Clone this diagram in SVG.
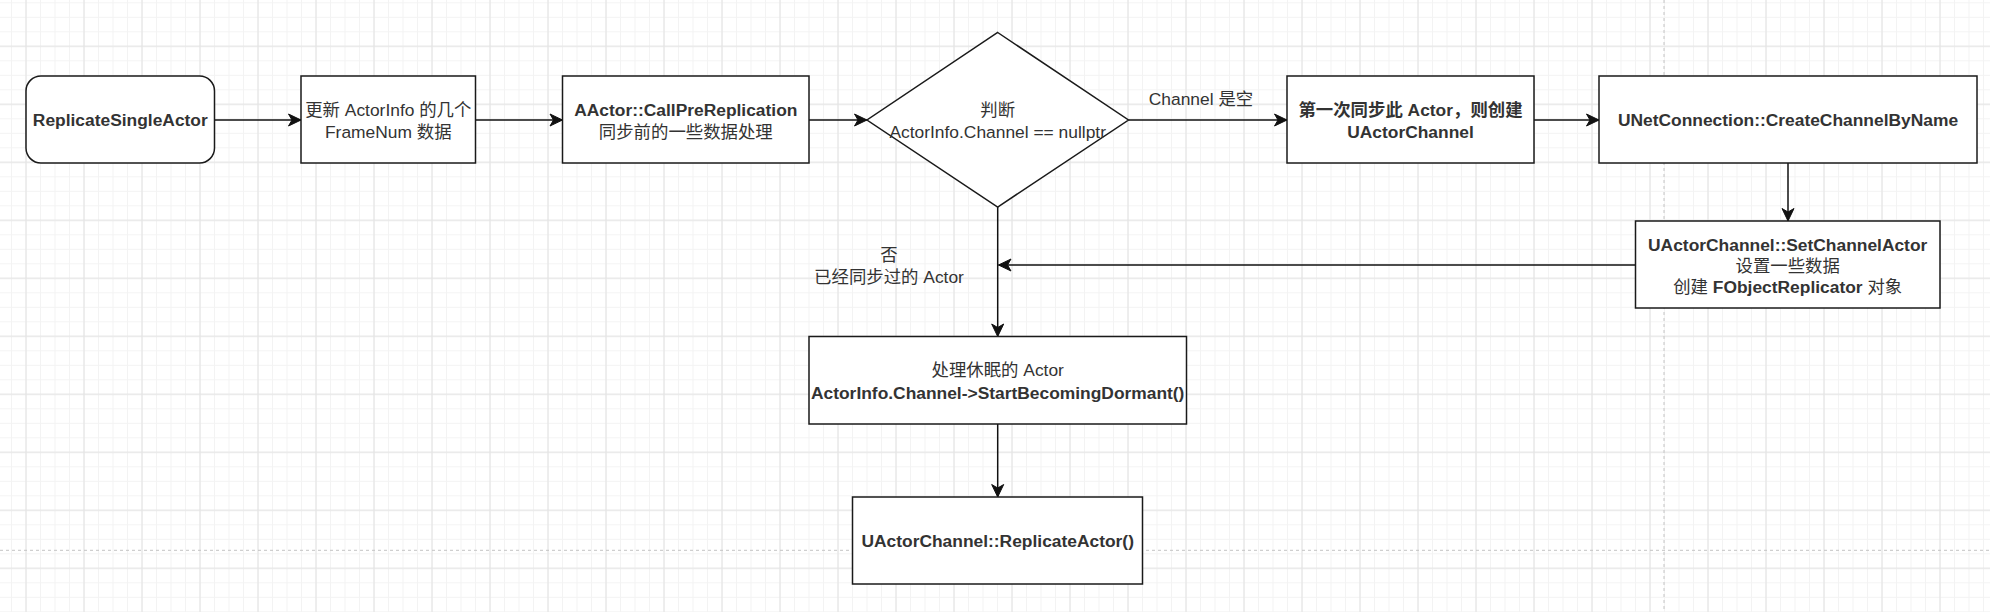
<svg xmlns="http://www.w3.org/2000/svg" width="1990" height="612" viewBox="0 0 1990 612">
<defs>
<pattern id="gminor" patternUnits="userSpaceOnUse" x="18.75" y="-4.45" width="14.5" height="14.5">
<path d="M7.25 0V14.5M0 7.25H14.5" stroke="#f3f3f3" stroke-width="1" fill="none"/>
</pattern>
<pattern id="gmajor" patternUnits="userSpaceOnUse" x="-3" y="17.3" width="58" height="58">
<path d="M29 0V58M0 29H58" stroke="#e2e2e2" stroke-width="1" fill="none"/>
</pattern>
<marker id="arr" markerUnits="userSpaceOnUse" markerWidth="16" markerHeight="16" viewBox="0 0 16 16" refX="14" refY="8" orient="auto">
<path d="M1.5 2 L14 8 L1.5 14 L5 8 Z" fill="#111" stroke="#111" stroke-width="1"/>
</marker>
<style>
.box{fill:#fff;stroke:#1a1a1a;stroke-width:1.5}
.t{font-family:"Liberation Sans","Noto Sans CJK SC",sans-serif;font-size:17.4px;fill:#333;text-anchor:middle}
.b{font-weight:bold}
.edge{fill:none;stroke:#111;stroke-width:1.5;marker-end:url(#arr)}
.pg{stroke:#c4c4c4;stroke-width:1;stroke-dasharray:3 3;fill:none}
</style>
</defs>
<rect width="1990" height="612" fill="#fff"/>
<rect width="1990" height="612" fill="url(#gminor)"/>
<rect width="1990" height="612" fill="url(#gmajor)"/>
<path class="pg" d="M0 550.3H1990M1664 0V612"/>

<g id="connectors">
<path class="edge" d="M214.5 120H301"/>
<path class="edge" d="M475.5 120H562.5"/>
<path class="edge" d="M809 120H867"/>
<path class="edge" d="M1128.5 120H1287"/>
<text class="t" x="1201" y="105">Channel 是空</text>
<path class="edge" d="M1534 120H1599"/>
<path class="edge" d="M1788 163V221"/>
<path class="edge" d="M1635.5 265H998.5"/>
<path class="edge" d="M997.7 207V336.5"/>
<text class="t" x="889" y="261">否</text>
<text class="t" x="889" y="283">已经同步过的 Actor</text>
<path class="edge" d="M997.7 424V497"/>
</g>

<g id="n1">
<rect class="box" x="26" y="76" width="188.5" height="87" rx="15" ry="15"/>
<text class="t b" x="120.3" y="126">ReplicateSingleActor</text>
</g>
<g id="n2">
<rect class="box" x="301" y="76" width="174.5" height="87"/>
<text class="t" x="388.3" y="116">更新 ActorInfo 的几个</text>
<text class="t" x="388.3" y="138">FrameNum 数据</text>
</g>
<g id="n3">
<rect class="box" x="562.5" y="76" width="246.5" height="87"/>
<text class="t b" x="685.8" y="116">AActor::CallPreReplication</text>
<text class="t" x="685.8" y="138">同步前的一些数据处理</text>
</g>
<g id="n4">
<path class="box" d="M997.7 32.5L1128.5 120L997.7 207L867 120Z"/>
<text class="t" x="997.7" y="116">判断</text>
<text class="t" x="997.7" y="138">ActorInfo.Channel == nullptr</text>
</g>
<g id="n5">
<rect class="box" x="1287" y="76" width="247" height="87"/>
<text class="t b" x="1410.5" y="116">第一次同步此 Actor，则创建</text>
<text class="t b" x="1410.5" y="138">UActorChannel</text>
</g>
<g id="n6">
<rect class="box" x="1599" y="76" width="378" height="87"/>
<text class="t b" x="1788" y="126">UNetConnection::CreateChannelByName</text>
</g>
<g id="n7">
<rect class="box" x="1635.5" y="221" width="304.5" height="87"/>
<text class="t b" x="1787.7" y="250.5">UActorChannel::SetChannelActor</text>
<text class="t" x="1787.7" y="271.5">设置一些数据</text>
<text class="t" x="1787.7" y="292.5">创建 <tspan class="b">FObjectReplicator</tspan> 对象</text>
</g>
<g id="n8">
<rect class="box" x="809" y="336.5" width="377.5" height="87.5"/>
<text class="t" x="997.7" y="376">处理休眠的 Actor</text>
<text class="t b" x="997.7" y="398.5">ActorInfo.Channel-&gt;StartBecomingDormant()</text>
</g>
<g id="n9">
<rect class="box" x="852.5" y="497" width="290" height="87"/>
<text class="t b" x="997.7" y="547">UActorChannel::ReplicateActor()</text>
</g>
</svg>
